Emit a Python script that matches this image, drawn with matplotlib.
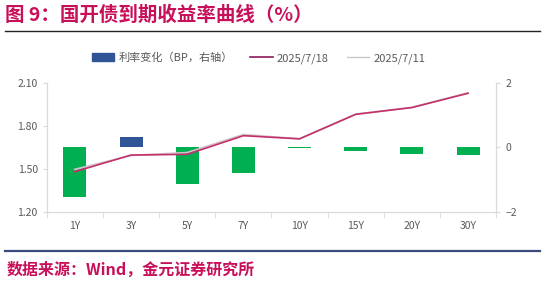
import matplotlib
matplotlib.use("Agg")
import matplotlib.pyplot as plt
import numpy as np
from matplotlib.patches import Patch
from matplotlib.lines import Line2D

plt.rcParams['font.family'] = ['Noto Sans CJK SC', 'DejaVu Sans']

categories = ["1Y", "3Y", "5Y", "7Y", "10Y", "15Y", "20Y", "30Y"]
yield_0718 = [1.479, 1.595, 1.600, 1.730, 1.708, 1.879, 1.926, 2.026]
yield_0711 = [1.495, 1.592, 1.612, 1.738, 1.708, 1.880, 1.928, 2.028]
change_bp = [-1.55, 0.30, -1.15, -0.80, -0.03, -0.12, -0.20, -0.25]

fig = plt.figure(figsize=(5.44, 2.83), dpi=100)
ax = fig.add_axes([0.086, 0.252, 0.826, 0.456])
ax2 = ax.twinx()

x = np.arange(len(categories))
bar_colors = ["#2F5597" if v > 0 else "#00B050" for v in change_bp]
ax2.bar(x, change_bp, width=0.41, color=bar_colors, zorder=1)
ax2.set_ylim(-2, 2)
ax2.set_yticks([-2, 0, 2])

ax.set_zorder(ax2.get_zorder() + 1)
ax.patch.set_visible(False)
ax.plot(x, yield_0711, color="#D0C4C8", lw=1.3, zorder=3)
ax.plot(x, yield_0718, color="#C4306C", lw=1.2, zorder=4)
ax.set_ylim(1.20, 2.10)
ax.set_yticks([1.20, 1.50, 1.80, 2.10])
ax.set_yticklabels(["1.20", "1.50", "1.80", "2.10"])
ax.set_xlim(-0.5, len(categories) - 0.5)
ax.set_xticks(x)
ax.set_xticklabels(categories)
ax.set_xticks(np.arange(-0.5, len(categories), 1.0), minor=True)

spine_c = "#D9D9D9"
for a in (ax, ax2):
    a.spines["top"].set_visible(False)
    for s in ("left", "right", "bottom"):
        a.spines[s].set_color(spine_c)
ax.tick_params(axis="x", which="major", length=0, labelsize=7.5, colors="#595959", pad=7)
ax.tick_params(axis="x", which="minor", length=4, color=spine_c)
ax.tick_params(axis="y", length=3, color=spine_c, labelsize=7.5, colors="#595959")
ax2.tick_params(axis="y", length=3, color=spine_c, labelsize=7.5, colors="#595959")

handles = [Patch(color="#2F5597"),
           Line2D([], [], color="#8B1A5A", lw=1.2),
           Line2D([], [], color="#C8C8C8", lw=1.0)]
labels = ["利率变化（BP，右轴）", "2025/7/18", "2025/7/11"]
fig.legend(handles, labels, loc="center", bbox_to_anchor=(0.475, 0.795), ncol=3,
           frameon=False, fontsize=8.0, handlelength=2.0, columnspacing=1.6,
           handletextpad=0.4, labelcolor="#595959")

fig.text(0.01, 0.945, "图 9：国开债到期收益率曲线（%）", fontsize=14, fontweight="bold",
         color="#C8105A", va="center", ha="left")
fig.add_artist(Line2D([0.009, 0.993], [0.889, 0.889], color="#222222", lw=1.0,
                      transform=fig.transFigure))
fig.add_artist(Line2D([0.009, 0.993], [0.113, 0.113], color="#3A4A7A", lw=1.6,
                      transform=fig.transFigure))
fig.text(0.013, 0.048, "数据来源：Wind，金元证券研究所", fontsize=11.5, fontweight="bold",
         style="italic", color="#C8105A", va="center", ha="left")

fig.savefig("out.png", dpi=100)
